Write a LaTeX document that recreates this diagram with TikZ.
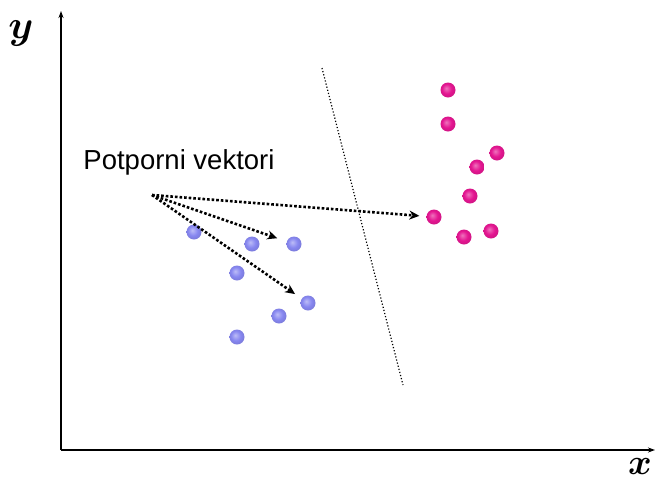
\documentclass[tikz,border=0pt]{standalone}
\usepackage{amsmath}
\usepackage{bm}
\usepackage{fontspec}
\setmainfont{Liberation Sans}
\usetikzlibrary{arrows.meta}
\definecolor{plava}{RGB}{135,135,240}
\definecolor{roza}{RGB}{228,22,145}
\pgfdeclareradialshading{plavakugla}{\pgfpoint{-6bp}{6bp}}{%
    color(0bp)=(plava!55!white); color(16bp)=(plava);
    color(26bp)=(plava!92!black); color(50bp)=(plava!92!black)}
\pgfdeclareradialshading{rozakugla}{\pgfpoint{-6bp}{6bp}}{%
    color(0bp)=(roza!60!white); color(16bp)=(roza);
    color(26bp)=(roza!92!black); color(50bp)=(roza!92!black)}
\tikzset{
    pb/.style = {circle, minimum size=15pt, inner sep=0pt, shading=plavakugla},
    pr/.style = {circle, minimum size=15pt, inner sep=0pt, shading=rozakugla},
    vek/.style = {line width=2.6pt, dotted, -{Stealth[length=10pt,width=9pt]}}
}

\begin{document}
\begin{tikzpicture}[x=1pt,y=-1pt]
        \useasboundingbox (0,0) rectangle (657,480);
        % osi
        \coordinate (o) at (61,450);
        \coordinate (yk) at (61,11);
        \coordinate (xk) at (655,450);
        \draw[line width=1.4pt, -{Stealth[length=7pt,width=5pt]}] (o) -- (yk);
        \draw[line width=1.4pt, -{Stealth[length=7pt,width=5pt]}] (o) -- (xk);
        \node[scale=4, inner sep=0pt] (y) at (21,33) {$\bm{y}$};
        \node[scale=3.6, inner sep=0pt] (x) at (640,466) {$\bm{x}$};

        % plave tocke
        \node[pb] (1) at (194,232) {};
        \node[pb] (2) at (252,244) {};
        \node[pb] (3) at (294,244) {};
        \node[pb] (4) at (237,273) {};
        \node[pb] (5) at (308,303) {};
        \node[pb] (6) at (279,316) {};
        \node[pb] (7) at (237,337) {};

        % roze tocke
        \node[pr] (8) at (448,90) {};
        \node[pr] (9) at (448,124) {};
        \node[pr] (10) at (497,153) {};
        \node[pr] (11) at (477,167) {};
        \node[pr] (12) at (470,196) {};
        \node[pr] (13) at (434,217) {};
        \node[pr] (14) at (491,231) {};
        \node[pr] (15) at (464,237) {};

        % granica
        \coordinate (g1) at (322,68);
        \coordinate (g2) at (403,385);
        \draw[line width=1.2pt, dotted] (g1) -- (g2);

        \node (t) at (179,162) {\fontsize{27.5}{30}\selectfont Potporni vektori};
        \coordinate (s) at (152,195);

        \path[vek]
            (s) edge[shorten >=7pt] (13)
            (s) edge[shorten >=10pt] (3)
            (s) edge[shorten >=8pt] (5)
        ;
    \end{tikzpicture}
\end{document}
